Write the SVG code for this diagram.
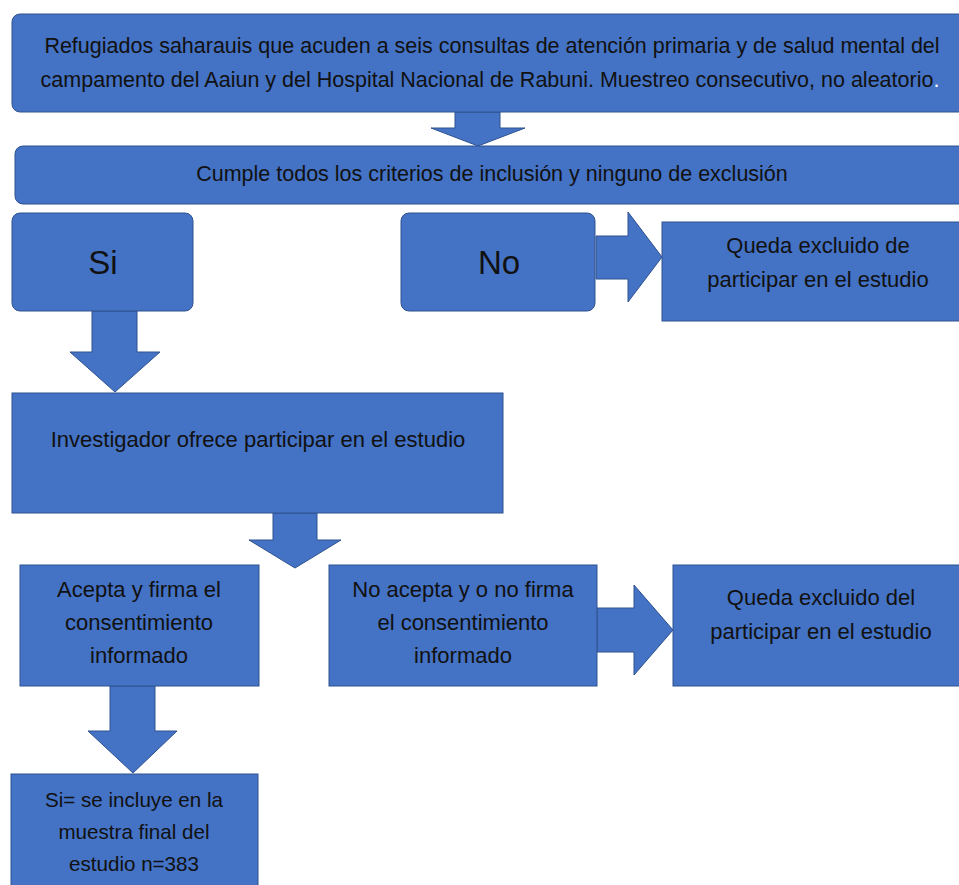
<svg xmlns="http://www.w3.org/2000/svg" width="959" height="885" viewBox="0 0 959 885">
<style>
.box{fill:#4472C4;stroke:#2F528F;stroke-width:1}
.arr{fill:#4472C4;stroke:#2F528F;stroke-width:1;stroke-linejoin:miter}
.t{font-family:"Liberation Sans",Arial,sans-serif;font-size:21.5px;fill:#111;text-anchor:middle}
.m{font-size:22px}
.s{font-size:20.6px}
.big{font-size:33px}
</style>
<rect width="959" height="885" fill="#fff"/>
<g id="connectors">
<polygon class="arr" points="455,112 500,112 500,128 525,128 478,146 431,128 455,128"/>
<polygon class="arr" points="596,236 628,236 628,212 662,257 628,302 628,279 596,279"/>
<polygon class="arr" points="92,311 137,311 137,352 160,352 115,392 70,352 92,352"/>
<polygon class="arr" points="273,513 317,513 317,540 341,540 295,568 249,540 273,540"/>
<polygon class="arr" points="597,608 634,608 634,585 673,630 634,675 634,652 597,652"/>
<polygon class="arr" points="110,686 155,686 155,731 177,731 133,773 88,731 110,731"/>
</g>
<g id="n1">
<rect class="box" x="12" y="14" width="960" height="98" rx="8"/>
<text class="t" x="492" y="53">Refugiados saharauis que acuden a seis consultas de atención primaria y de salud mental del</text>
<text class="t" x="490" y="87">campamento del Aaiun y del Hospital Nacional de Rabuni. Muestreo consecutivo, no aleatorio<tspan fill="#fff">.</tspan></text>
</g>
<g id="n2">
<rect class="box" x="15" y="146" width="960" height="58" rx="8"/>
<text class="t" x="492" y="181">Cumple todos los criterios de inclusión y ninguno de exclusión</text>
</g>
<g id="n3">
<rect class="box" x="12" y="213" width="181" height="98" rx="8"/>
<text class="t big" x="103" y="274">Si</text>
</g>
<g id="n4">
<rect class="box" x="401" y="213" width="194" height="98" rx="8"/>
<text class="t big" x="499" y="274">No</text>
</g>
<g id="n5">
<rect class="box" x="662" y="222" width="310" height="99"/>
<text class="t m" x="818" y="253">Queda excluido de</text>
<text class="t m" x="818" y="287">participar en el estudio</text>
</g>
<g id="n6">
<rect class="box" x="12" y="393" width="491" height="120"/>
<text class="t m" x="258" y="447">Investigador ofrece participar en el estudio</text>
</g>
<g id="n7">
<rect class="box" x="20" y="565" width="239" height="121"/>
<text class="t m" x="139" y="597">Acepta y firma el</text>
<text class="t m" x="139" y="630">consentimiento</text>
<text class="t m" x="139" y="663">informado</text>
</g>
<g id="n8">
<rect class="box" x="329" y="565" width="268" height="121"/>
<text class="t m" x="463" y="597">No acepta y o no firma</text>
<text class="t m" x="463" y="630">el consentimiento</text>
<text class="t m" x="463" y="663">informado</text>
</g>
<g id="n9">
<rect class="box" x="673" y="565" width="300" height="121"/>
<text class="t m" x="821" y="605">Queda excluido del</text>
<text class="t m" x="821" y="639">participar en el estudio</text>
</g>
<g id="n10">
<rect class="box" x="11" y="774" width="247" height="130"/>
<text class="t s" x="134" y="807">Si= se incluye en la</text>
<text class="t s" x="134" y="839">muestra final del</text>
<text class="t s" x="134" y="871">estudio n=383</text>
</g>
</svg>
